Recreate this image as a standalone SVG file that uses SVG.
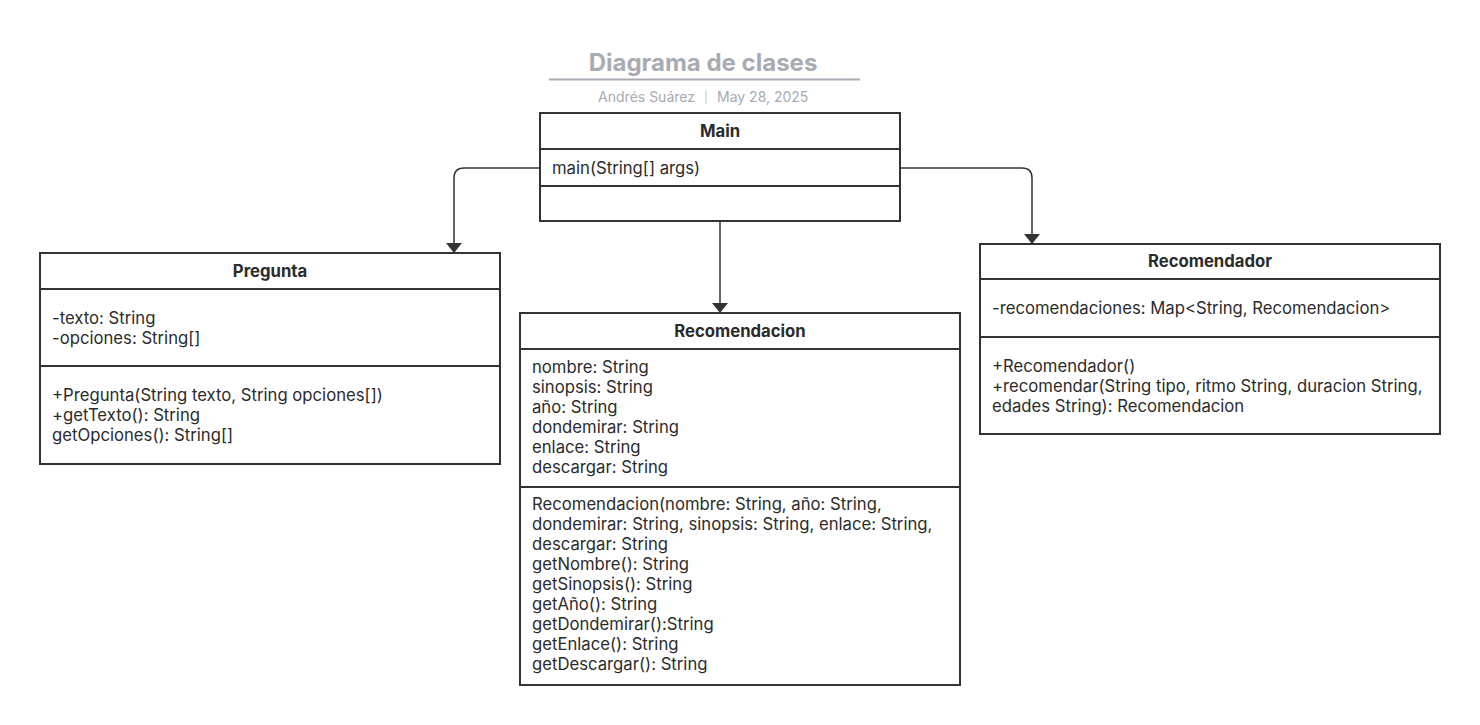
<svg xmlns="http://www.w3.org/2000/svg" width="1480" height="725" viewBox="0 0 1480 725">
<style>
.box{fill:#fff;stroke:#333;stroke-width:2}
.div{stroke:#333;stroke-width:2}
.t{font-family:Inter,"Liberation Sans",sans-serif;font-size:16.7px;fill:#2b2b2b}
.h{font-family:Inter,"Liberation Sans",sans-serif;font-size:16.7px;font-weight:bold;fill:#2b2b2b;text-anchor:middle}
.conn{fill:none;stroke:#333;stroke-width:1.5}
.title{font-family:Inter,"Liberation Sans",sans-serif;font-size:24px;font-weight:bold;fill:#a7abb4;text-anchor:middle}
.sub{font-family:Inter,"Liberation Sans",sans-serif;font-size:14px;fill:#a7abb4}
</style>
<defs>
<marker id="arr" viewBox="0 0 10 16" refX="10" refY="8" markerWidth="10" markerHeight="16" markerUnits="userSpaceOnUse" orient="auto">
<path d="M0,0 L10,8 L0,16 Z" fill="#333"/>
</marker>
</defs>
<rect width="1480" height="725" fill="#fff"/>
<g id="header">
<text class="title" x="703" y="71">Diagrama de clases</text>
<line x1="549" y1="79.5" x2="860" y2="79.5" stroke="#a7abb4" stroke-width="2"/>
<text class="sub" x="695" y="102" text-anchor="end">Andrés Suárez</text>
<line x1="706" y1="90" x2="706" y2="104" stroke="#c4c7cd" stroke-width="1"/>
<text class="sub" x="717" y="102">May 28, 2025</text>
</g>
<g id="connectors">
<path class="conn" d="M540,168 H464 Q454,168 454,178 V253" marker-end="url(#arr)"/>
<path class="conn" d="M900,168 H1022 Q1032,168 1032,178 V244" marker-end="url(#arr)"/>
<path class="conn" d="M720,222 V313" marker-end="url(#arr)"/>
</g>
<g id="Main">
<rect class="box" x="540" y="113" width="360" height="108"/>
<line class="div" x1="540" y1="149" x2="900" y2="149"/>
<line class="div" x1="540" y1="186" x2="900" y2="186"/>
<text class="h" x="720" y="137">Main</text>
<text class="t" x="552" y="174">main(String[] args)</text>
</g>
<g id="Pregunta">
<rect class="box" x="40" y="253" width="460" height="211"/>
<line class="div" x1="40" y1="289" x2="500" y2="289"/>
<line class="div" x1="40" y1="366" x2="500" y2="366"/>
<text class="h" x="270" y="277">Pregunta</text>
<text class="t" x="52" y="324">-texto: String</text>
<text class="t" x="52" y="344">-opciones: String[]</text>
<text class="t" x="52" y="401">+Pregunta(String texto, String opciones[])</text>
<text class="t" x="52" y="421">+getTexto(): String</text>
<text class="t" x="52" y="441">getOpciones(): String[]</text>
</g>
<g id="Recomendacion">
<rect class="box" x="520" y="313" width="440" height="372"/>
<line class="div" x1="520" y1="349" x2="960" y2="349"/>
<line class="div" x1="520" y1="487" x2="960" y2="487"/>
<text class="h" x="740" y="337">Recomendacion</text>
<text class="t" x="532" y="373">nombre: String</text>
<text class="t" x="532" y="393">sinopsis: String</text>
<text class="t" x="532" y="413">año: String</text>
<text class="t" x="532" y="433">dondemirar: String</text>
<text class="t" x="532" y="453">enlace: String</text>
<text class="t" x="532" y="473">descargar: String</text>
<text class="t" x="532" y="510">Recomendacion(nombre: String, año: String,</text>
<text class="t" x="532" y="530">dondemirar: String, sinopsis: String, enlace: String,</text>
<text class="t" x="532" y="550">descargar: String</text>
<text class="t" x="532" y="570">getNombre(): String</text>
<text class="t" x="532" y="590">getSinopsis(): String</text>
<text class="t" x="532" y="610">getAño(): String</text>
<text class="t" x="532" y="630">getDondemirar():String</text>
<text class="t" x="532" y="650">getEnlace(): String</text>
<text class="t" x="532" y="670">getDescargar(): String</text>
</g>
<g id="Recomendador">
<rect class="box" x="980" y="244" width="460" height="190"/>
<line class="div" x1="980" y1="279" x2="1440" y2="279"/>
<line class="div" x1="980" y1="337" x2="1440" y2="337"/>
<text class="h" x="1210" y="267">Recomendador</text>
<text class="t" x="992" y="314">-recomendaciones: Map&lt;String, Recomendacion&gt;</text>
<text class="t" x="992" y="372">+Recomendador()</text>
<text class="t" x="992" y="392">+recomendar(String tipo, ritmo String, duracion String,</text>
<text class="t" x="992" y="412">edades String): Recomendacion</text>
</g>
</svg>
